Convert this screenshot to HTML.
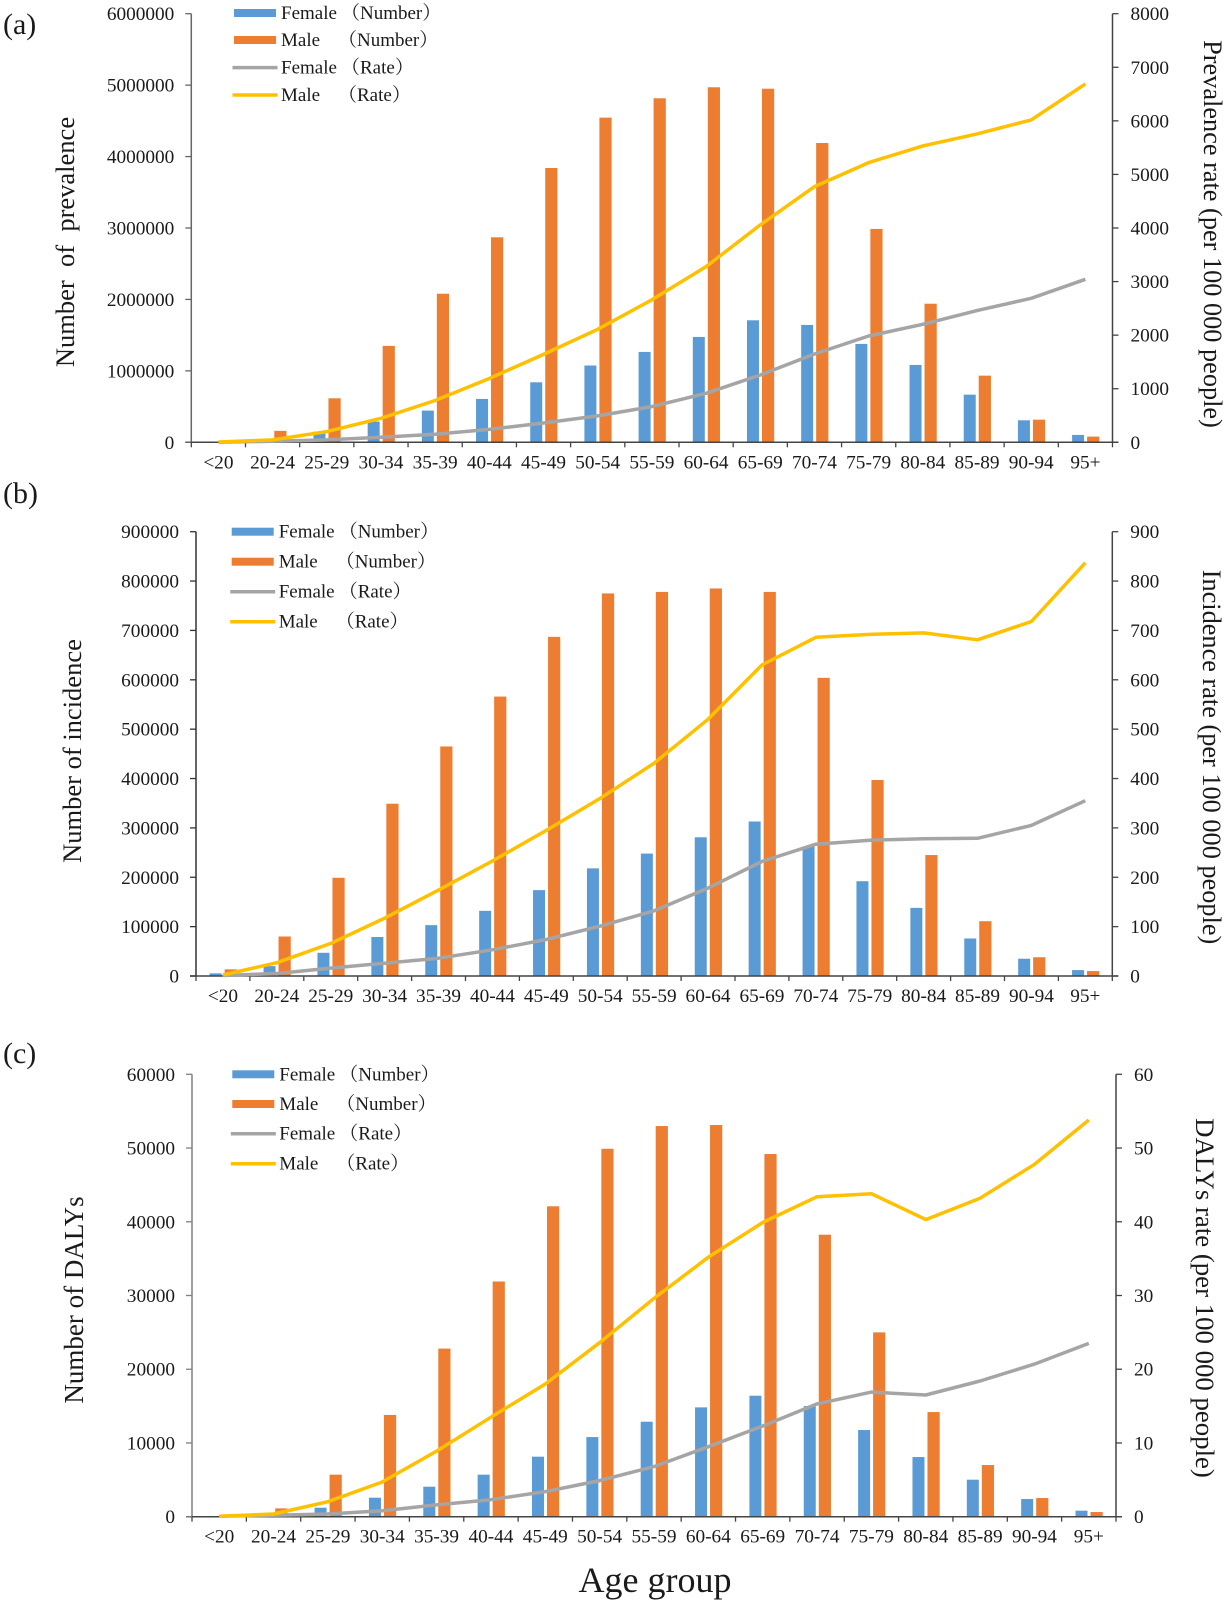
<!DOCTYPE html>
<html lang="en">
<head>
<meta charset="utf-8">
<title>Prevalence, incidence and DALYs by age group</title>
<style>
  html, body { margin: 0; padding: 0; background: #fff; }
  body { width: 1229px; height: 1600px; overflow: hidden; }
  svg { display: block; filter: blur(0.35px); }
  text { font-family: "Liberation Serif", "Noto Serif CJK SC", serif; fill: #1a1a1a; }
  .tick { font-size: 19.3px; }
  .legend { font-size: 19px; }
  .title-l { font-size: 26.5px; }
  .title-r { font-size: 26.3px; }
  .panel-label { font-size: 30px; }
</style>
</head>
<body>
<svg id="chart" xmlns="http://www.w3.org/2000/svg" width="1229" height="1600" viewBox="0 0 1229 1600">
  <text class="panel-label" x="3" y="34">(a)</text>
  <text class="panel-label" x="3" y="503">(b)</text>
  <text class="panel-label" x="3" y="1063">(c)</text>

  <text class="title-l" text-anchor="middle" xml:space="preserve" transform="translate(74,242) rotate(-90)">Number  of  prevalence</text>
  <text class="title-l" text-anchor="middle" transform="translate(81,751) rotate(-90)">Number of incidence</text>
  <text class="title-l" text-anchor="middle" style="font-size:27px" transform="translate(83,1300) rotate(-90)">Number of DALYs</text>

  <text class="title-r" text-anchor="middle" transform="translate(1204,234) rotate(90)">Prevalence rate (per 100 000 people)</text>
  <text class="title-r" text-anchor="middle" transform="translate(1203,757) rotate(90)">Incidence rate (per 100 000 people)</text>
  <text class="title-r" text-anchor="middle" style="font-size:26.8px" transform="translate(1196,1298) rotate(90)">DALYs rate (per 100 000 people)</text>

  <text x="655" y="1592" text-anchor="middle" style="font-size:36px">Age group</text>
</svg>
<script>
// Shared categories
const ageGroups = ['<20','20-24','25-29','30-34','35-39','40-44','45-49','50-54','55-59','60-64','65-69','70-74','75-79','80-84','85-89','90-94','95+'];

// Panel (a) prevalence
const leftTicksA = [0,1000000,2000000,3000000,4000000,5000000,6000000];
const rightTicksA = [0,1000,2000,3000,4000,5000,6000,7000,8000];
const femaleNumberA = [0,30000,150000,290000,444000,607000,840000,1075000,1265000,1475000,1708000,1643000,1377000,1083000,667000,308000,103000];
const maleNumberA = [0,160000,616000,1350000,2080000,2870000,3840000,4545000,4816000,4970000,4950000,4190000,2987000,1940000,933000,317000,80000];
const femaleRateA = [0,20,45,93,150,240,360,492,666,915,1257,1649,1985,2203,2458,2688,3043];
const maleRateA = [5,44,200,448,780,1190,1640,2110,2660,3279,4057,4773,5220,5532,5756,6017,6690];

// Panel (b) incidence
const leftTicksB = [0,100000,200000,300000,400000,500000,600000,700000,800000,900000];
const rightTicksB = [0,100,200,300,400,500,600,700,800,900];
const femaleNumberB = [5400,20000,47000,79000,103000,132000,174000,218000,248000,281000,313000,262000,192000,138000,76000,35000,12000];
const maleNumberB = [13500,80000,199000,349000,465000,566000,687000,775000,778000,785000,778000,604000,397000,245000,111000,38000,10000];
const femaleRateB = [1,5,16,26,36,53,74,101,132,178,232,267,275,278,279,305,355];
const maleRateB = [2,27,66,117,174,233,295,360,431,520,630,686,692,695,681,718,837];

// Panel (c) DALYs
const leftTicksC = [0,10000,20000,30000,40000,50000,60000];
const rightTicksC = [0,10,20,30,40,50,60];
const femaleNumberC = [0,200,1220,2577,4070,5700,8140,10800,12884,14828,16410,15009,11754,8092,5018,2396,814];
const maleNumberC = [0,1130,5700,13800,22800,31900,42100,49900,52983,53119,49186,38246,25000,14195,7007,2532,633];
const femaleRateC = [0.05,0.2,0.36,0.8,1.6,2.3,3.4,4.9,6.8,9.5,12.3,15.3,16.9,16.5,18.4,20.7,23.5];
const maleRateC = [0.05,0.36,2.03,4.7,8.9,13.5,18.0,23.6,29.6,35.2,39.9,43.4,43.8,40.3,43.2,47.8,53.8];

const svg = document.getElementById('chart');
const NS = 'http://www.w3.org/2000/svg';

function make(tag, attrs, text) {
  const el = document.createElementNS(NS, tag);
  for (const k in attrs) el.setAttribute(k, attrs[k]);
  if (text !== undefined) el.textContent = text;
  svg.appendChild(el);
  return el;
}

function drawPanel(id, box, leftTicks, rightTicks, femaleNumber, maleNumber, femaleRate, maleRate) {
  const step = (box.right - box.left) / ageGroups.length;
  const cx = function (i) { return box.left + (i + 0.5) * step; };
  const yLeft = function (v) { return box.base - v / leftTicks[leftTicks.length - 1] * (box.base - box.top); };
  const yRight = function (v) { return box.base - v / rightTicks[rightTicks.length - 1] * (box.base - box.top); };

  // bars
  ageGroups.forEach(function (g, i) {
    const fb = make('rect', { x: cx(i) - 13.3, y: yLeft(femaleNumber[i]), width: 12, height: box.base - yLeft(femaleNumber[i]), fill: '#5B9BD5' });
    
    
    const mb = make('rect', { x: cx(i) + 1.7, y: yLeft(maleNumber[i]), width: 12.2, height: box.base - yLeft(maleNumber[i]), fill: '#ED7D31' });
    
    
  });

  // axes
  const leftAxis = make('line', { x1: box.left, x2: box.left, y1: box.top, y2: box.base, stroke: box.axis, 'stroke-width': 1.5 });
  
  
  const rightAxis = make('line', { x1: box.right, x2: box.right, y1: box.top, y2: box.base, stroke: '#444', 'stroke-width': 1.5 });
  
  
  const xAxis = make('line', { x1: box.left - 6, x2: box.right + 6, y1: box.base, y2: box.base, stroke: '#444', 'stroke-width': 1.5 });
  
  

  // y ticks, left
  leftTicks.forEach(function (v) {
    const t = make('line', { x1: box.left - 6, x2: box.left, y1: yLeft(v), y2: yLeft(v), stroke: box.axis, 'stroke-width': 1.3 });
    
    
    const l = make('text', { class: 'tick', x: box.left - 17, y: yLeft(v) + 6.5, 'text-anchor': 'end' }, String(v));
    
    
  });

  // y ticks, right
  rightTicks.forEach(function (v) {
    const t = make('line', { x1: box.right, x2: box.right + 6, y1: yRight(v), y2: yRight(v), stroke: '#444', 'stroke-width': 1.3 });
    
    
    const l = make('text', { class: 'tick', x: box.right + 18, y: yRight(v) + 6.5 }, String(v));
    
    
  });

  // x ticks and labels
  for (let i = 0; i <= ageGroups.length; i++) {
    const x = box.left + i * step;
    const t = make('line', { x1: x, x2: x, y1: box.base, y2: box.base + 5, stroke: '#444', 'stroke-width': 1.3 });
    
    
  }
  ageGroups.forEach(function (g, i) {
    const l = make('text', { class: 'tick', x: cx(i), y: box.base + 26, 'text-anchor': 'middle' }, g);
    
    
  });

  // rate lines
  const toPoints = function (arr) {
    return arr.map(function (v, i) { return cx(i).toFixed(1) + ',' + yRight(v).toFixed(1); }).join(' ');
  };
  const fl = make('polyline', { points: toPoints(femaleRate), fill: 'none', stroke: '#A5A5A5', 'stroke-width': 3.5, 'stroke-linejoin': 'round' });
  
  
  const ml = make('polyline', { points: toPoints(maleRate), fill: 'none', stroke: '#FFC000', 'stroke-width': 3.5, 'stroke-linejoin': 'round' });
  
  

  // legend
  const lg = box.legend;
  const s1 = make('rect', { x: lg.x, y: lg.rows[0] - 4, width: 42, height: 8, fill: '#5B9BD5' });
  
  
  const s2 = make('rect', { x: lg.x, y: lg.rows[1] - 4, width: 42, height: 8, fill: '#ED7D31' });
  
  
  const s3 = make('line', { x1: lg.x - 1.5, x2: lg.x + 43.5, y1: lg.rows[2], y2: lg.rows[2], stroke: '#A5A5A5', 'stroke-width': 3.5 });
  
  
  const s4 = make('line', { x1: lg.x - 1.5, x2: lg.x + 43.5, y1: lg.rows[3], y2: lg.rows[3], stroke: '#FFC000', 'stroke-width': 3.5 });
  
  

  const tx = lg.x + 47;
  const t1a = make('text', { class: 'legend', x: tx, y: lg.rows[0] + 6 }, 'Female');
  
  
  const t1b = make('text', { class: 'legend', x: tx + 60, y: lg.rows[0] + 6 }, '（Number）');
  
  
  const t2a = make('text', { class: 'legend', x: tx, y: lg.rows[1] + 6 }, 'Male');
  
  
  const t2b = make('text', { class: 'legend', x: tx + 57, y: lg.rows[1] + 6 }, '（Number）');
  
  
  const t3a = make('text', { class: 'legend', x: tx, y: lg.rows[2] + 6 }, 'Female');
  
  
  const t3b = make('text', { class: 'legend', x: tx + 60, y: lg.rows[2] + 6 }, '（Rate）');
  
  
  const t4a = make('text', { class: 'legend', x: tx, y: lg.rows[3] + 6 }, 'Male');
  
  
  const t4b = make('text', { class: 'legend', x: tx + 57, y: lg.rows[3] + 6 }, '（Rate）');
  
  
}

drawPanel('prevalence',
  { left: 191.3, right: 1112.5, top: 13.7, base: 442.3, axis: '#666', legend: { x: 234, rows: [13, 40, 67.6, 95] } },
  leftTicksA, rightTicksA, femaleNumberA, maleNumberA, femaleRateA, maleRateA);

drawPanel('incidence',
  { left: 196, right: 1112.3, top: 531.7, base: 976, axis: '#333', legend: { x: 231.7, rows: [531.7, 561.7, 591.7, 621.7] } },
  leftTicksB, rightTicksB, femaleNumberB, maleNumberB, femaleRateB, maleRateB);

drawPanel('dalys',
  { left: 192, right: 1116, top: 1074.3, base: 1516.7, axis: '#808080', legend: { x: 232.3, rows: [1074.3, 1104, 1133.7, 1163.7] } },
  leftTicksC, rightTicksC, femaleNumberC, maleNumberC, femaleRateC, maleRateC);
</script>
</body>
</html>
